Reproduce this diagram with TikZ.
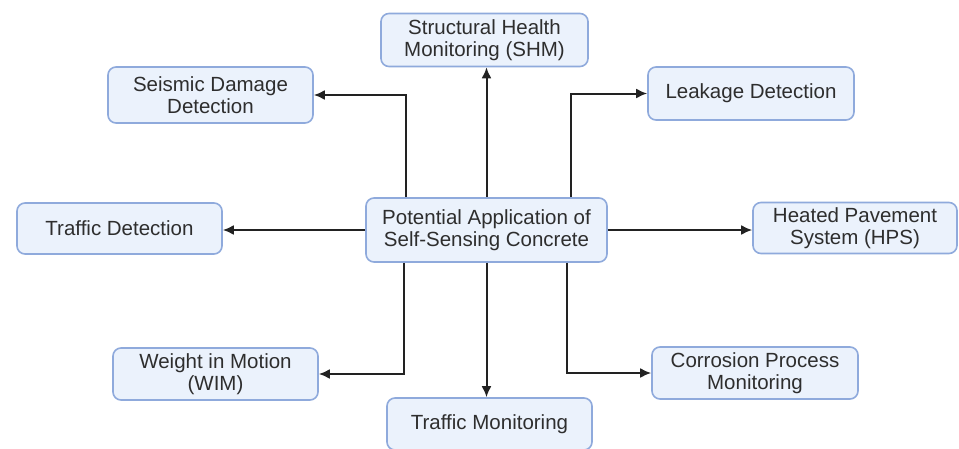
\documentclass[tikz,border=0pt]{standalone}
\usepackage{fontspec}
\setmainfont{Liberation Sans}
\usetikzlibrary{arrows.meta}
\definecolor{boxfill}{HTML}{EBF2FC}
\definecolor{boxline}{HTML}{8FAADC}
\definecolor{txt}{HTML}{2E2E2E}
\definecolor{lin}{HTML}{222222}
\tikzset{
  box/.style={draw=boxline, line width=1.6pt, fill=boxfill, rounded corners=8pt,
    text=txt, align=center, inner sep=0pt,
    font=\fontsize{20.5pt}{22pt}\selectfont},
  arr/.style={draw=lin, line width=2pt, -{Latex[length=11pt,width=10pt]}}
}
\begin{document}
\begin{tikzpicture}[x=1pt,y=-1pt]
\useasboundingbox (0,0) rectangle (959,448);
\fill[white] (0,0) rectangle (959,448);
\node[box, minimum width=241pt, minimum height=64pt] (c) at (486.5,230) {Potential Application of\\Self-Sensing Concrete};
\node[box, minimum width=207pt, minimum height=53pt] (shm) at (484.5,40) {Structural Health\\Monitoring (SHM)};
\node[box, minimum width=205pt, minimum height=56pt] (seis) at (210.5,95) {Seismic Damage\\Detection};
\node[box, minimum width=206pt, minimum height=53pt] (leak) at (751,93.5) {Leakage Detection};
\node[box, minimum width=205pt, minimum height=51pt] (tdet) at (119.5,228.5) {Traffic Detection};
\node[box, minimum width=204pt, minimum height=51pt] (hps) at (855,228) {Heated Pavement\\System (HPS)};
\node[box, minimum width=205pt, minimum height=52pt] (wim) at (215.5,374) {Weight in Motion\\(WIM)};
\node[box, minimum width=205pt, minimum height=52pt] (tmon) at (489.5,424) {Traffic Monitoring};
\node[box, minimum width=206pt, minimum height=52pt] (corr) at (755,373) {Corrosion Process\\Monitoring};
\draw[arr] ([xshift=-80.5pt]c.north) |- (seis.east);
\draw[arr] (c.north) -- (c.north |- shm.south);
\draw[arr] ([xshift=84pt]c.north) |- (leak.west);
\draw[arr] (c.west) -- (c.west -| tdet.east);
\draw[arr] (c.east) -- (c.east -| hps.west);
\draw[arr] ([xshift=-82.5pt]c.south) |- (wim.east);
\draw[arr] (c.south) -- (c.south |- tmon.north);
\draw[arr] ([xshift=80.5pt]c.south) |- (corr.west);
\end{tikzpicture}
\end{document}
